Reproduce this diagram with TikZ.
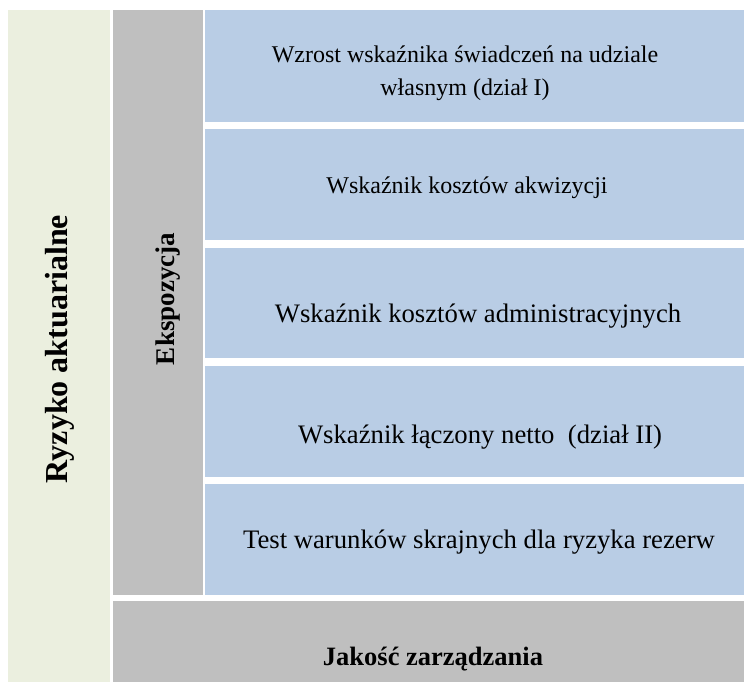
\documentclass[tikz,border=0pt]{standalone}
\usepackage{fontspec}
\setmainfont{Liberation Serif}
\definecolor{lgreen}{HTML}{EBEFDF}
\definecolor{lgray}{HTML}{BFBFBF}
\definecolor{lblue}{HTML}{B9CDE5}
\tikzset{
  panel/.style={inner sep=0pt, outer sep=0pt, anchor=north west},
  bluebox/.style={panel, fill=lblue},
  graybox/.style={panel, fill=lgray},
  greenbox/.style={panel, fill=lgreen},
  btext/.style={font=\fontsize{24}{35}\selectfont, align=center, anchor=base, inner sep=0pt},
  btextl/.style={font=\fontsize{26.7}{35}\selectfont, align=center, anchor=base, inner sep=0pt},
  boldtext/.style={font=\fontsize{26.5}{30}\selectfont\bfseries, inner sep=0pt},
}
\begin{document}
\begin{tikzpicture}[x=1pt,y=-1pt]
\useasboundingbox (0,0) rectangle (744,682);
\node[greenbox, minimum width=102pt, minimum height=672pt] (green) at (8,10) {};
\node[graybox, minimum width=90pt, minimum height=585pt] (expo) at (113,10) {};
\node[bluebox, minimum width=539pt, minimum height=111.7pt] (b1) at (205,10) {};
\node[bluebox, minimum width=539pt, minimum height=110.7pt] (b2) at (205,129.3) {};
\node[bluebox, minimum width=539pt, minimum height=110.7pt] (b3) at (205,247.7) {};
\node[bluebox, minimum width=539pt, minimum height=110.7pt] (b4) at (205,366) {};
\node[bluebox, minimum width=539pt, minimum height=110.7pt] (b5) at (205,484.3) {};
\node[graybox, minimum width=631pt, minimum height=81pt] (jak) at (113,601.3) {};

\node[boldtext, rotate=90, font=\fontsize{32}{36}\selectfont\bfseries] (t0) at (60,349) {Ryzyko aktuarialne};
\node[boldtext, rotate=90, font=\fontsize{27}{30}\selectfont\bfseries] (te) at (168,299) {Ekspozycja};
\node[btext] (t1a) at (465,62.5) {Wzrost wskaźnika świadczeń na udziale};
\node[btext] (t1b) at (465,96) {własnym (dział I)};
\node[btext] (t2) at (467,193) {Wskaźnik kosztów akwizycji};
\node[btextl] (t3) at (478,322) {Wskaźnik kosztów administracyjnych};
\node[btextl] (t4) at (480,443) {Wskaźnik łączony netto\ \ (dział II)};
\node[btextl] (t5) at (479,548) {Test warunków skrajnych dla ryzyka rezerw};
\node[boldtext, anchor=base] (tj) at (433,665) {Jakość zarządzania};
\end{tikzpicture}
\end{document}
